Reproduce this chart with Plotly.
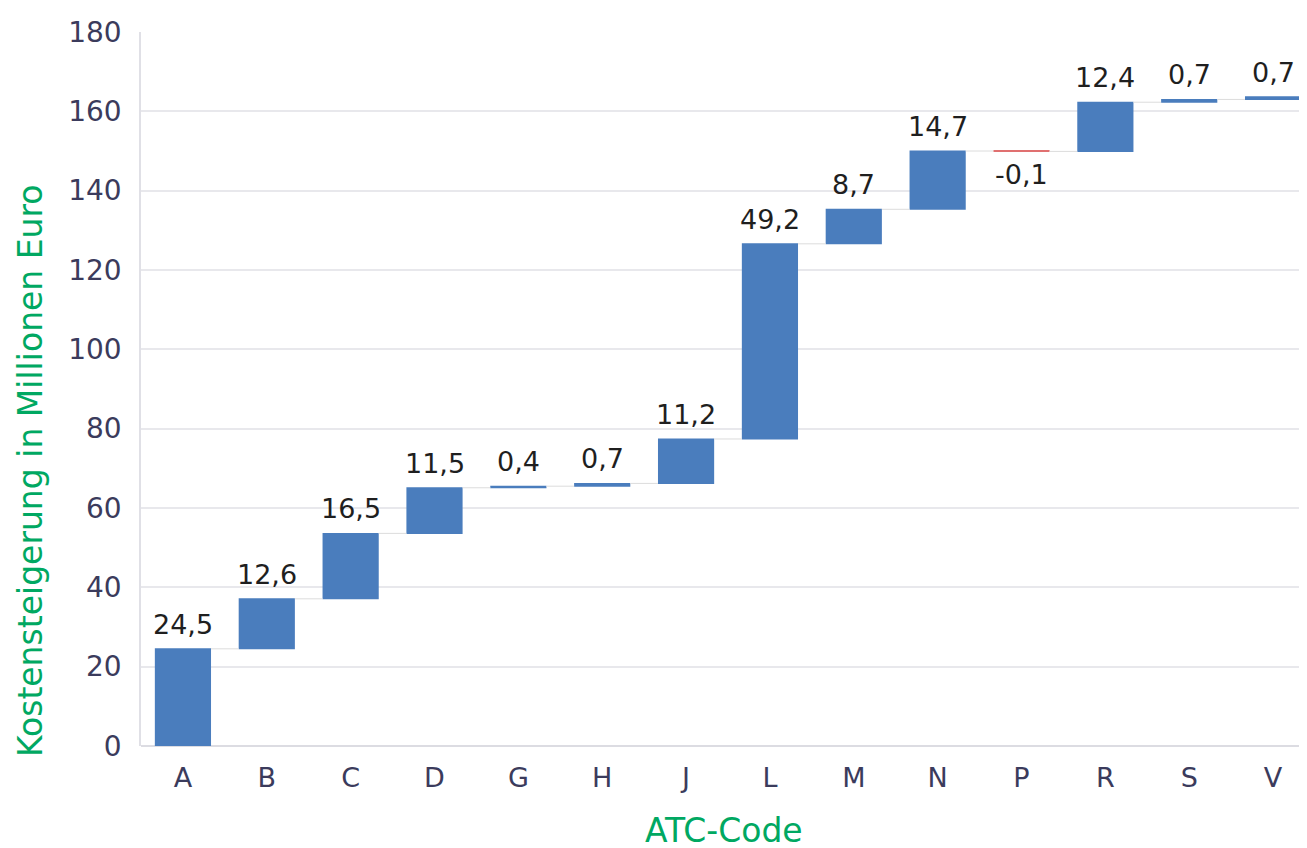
import plotly.graph_objects as go

categories = ["A", "B", "C", "D", "G", "H", "J", "L", "M", "N", "P", "R", "S", "V"]
values = [24.5, 12.6, 16.5, 11.5, 0.4, 0.7, 11.2, 49.2, 8.7, 14.7, -0.1, 12.4, 0.7, 0.7]
labels = [f"{v:.1f}".replace(".", ",") for v in values]
y_ticks = [0, 20, 40, 60, 80, 100, 120, 140, 160, 180]

FONT = "DejaVu Sans"
TICK = "#3b3b5c"
GREEN = "#00a862"

fig = go.Figure(go.Waterfall(
    x=categories,
    y=values,
    measure=["relative"] * len(values),
    increasing=dict(marker=dict(color="#4a7dbd")),
    decreasing=dict(marker=dict(color="#e07070")),
    connector=dict(line=dict(color="#dcdcdc", width=1)),
    width=0.67,
    hoverinfo="x+y",
))

# value labels placed at the bar ends (running totals)
annotations = []
total = 0.0
for cat, v, lab in zip(categories, values, labels):
    start = total
    total += v
    if v >= 0:
        annotations.append(dict(x=cat, y=total, text=lab, showarrow=False,
                                xanchor="center", yanchor="bottom", yshift=7,
                                font=dict(family=FONT, size=27, color="#1f1f1f")))
    else:
        annotations.append(dict(x=cat, y=total, text=lab, showarrow=False,
                                xanchor="center", yanchor="top", yshift=-6,
                                font=dict(family=FONT, size=27, color="#1f1f1f")))

annotations += [
    dict(
        text="Kostensteigerung in Millionen Euro",
        xref="paper", yref="paper",
        x=(30 - 141) / 1174, y=(746 - 471) / 714,
        xanchor="center", yanchor="middle",
        textangle=-90, showarrow=False,
        font=dict(family=FONT, size=33, color=GREEN),
    ),
    dict(
        text="ATC-Code",
        xref="paper", yref="paper",
        x=(724 - 141) / 1174, y=(746 - 830) / 714,
        xanchor="center", yanchor="middle",
        showarrow=False,
        font=dict(family=FONT, size=33, color=GREEN),
    ),
]

fig.update_layout(
    width=1307, height=848,
    margin=dict(l=133, r=0, t=24, b=110),
    paper_bgcolor="white", plot_bgcolor="white",
    showlegend=False,
    font=dict(family=FONT, color=TICK),
    xaxis=dict(
        range=[-0.5, 13.5],
        tickfont=dict(family=FONT, size=27, color=TICK),
        showgrid=False,
        ticks="",
        ticklabelstandoff=13,
    ),
    yaxis=dict(
        range=[0, 180],
        tickvals=y_ticks,
        tickfont=dict(family=FONT, size=28, color=TICK),
        showgrid=True, gridcolor="#e8e8ec", gridwidth=1.5,
        zeroline=True, zerolinecolor="#dcdce2", zerolinewidth=1.5,
        showline=True, linecolor="#e0e0e6", linewidth=1.5,
        ticks="", ticklabelstandoff=12,
    ),
    annotations=annotations,
)

fig.write_html("out.html")
